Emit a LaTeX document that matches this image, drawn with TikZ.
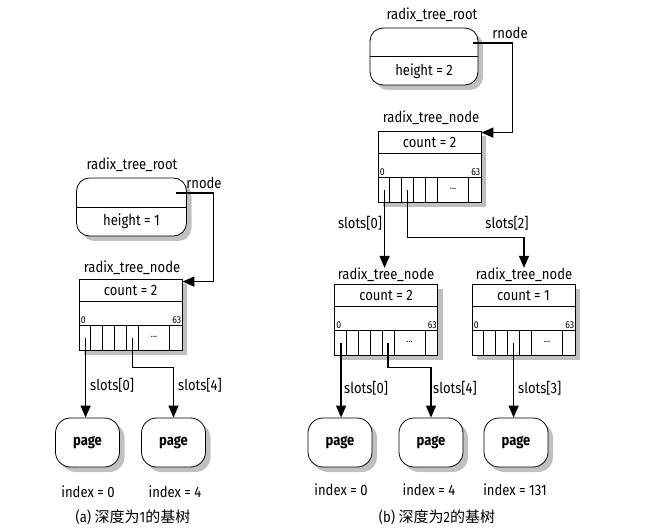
\documentclass[tikz,border=0pt]{standalone}
\usepackage{fontspec}
\setmainfont[FakeStretch=0.87]{Fira Sans}
\newfontfamily\cjk{Noto Sans CJK SC}
\usetikzlibrary{shadows,arrows.meta,calc}
\begin{document}
\begin{tikzpicture}[x=1pt,y=-1pt,
  txt/.style={font=\fontsize{15}{17}\selectfont, inner sep=0pt},
  small/.style={font=\fontsize{10}{11}\selectfont, inner sep=0pt},
  shd/.style={drop shadow={shadow xshift=5pt,shadow yshift=-5pt,fill=black!45,opacity=0.55}},
  rootbox/.style={draw, rounded corners=13pt, minimum width=110pt, minimum height=58pt, fill=white, shd, line width=0.8pt, inner sep=0pt},
  nodebox/.style={draw, minimum width=103pt, minimum height=71pt, fill=white, shd, line width=0.8pt, inner sep=0pt},
  pagebox/.style={draw, rounded corners=15pt, minimum width=64pt, minimum height=49pt, fill=white, shd, line width=0.8pt, inner sep=0pt, font=\fontsize{15}{17}\selectfont\bfseries},
  conn/.style={line width=1.5pt, -{Triangle[length=12pt,width=10pt]}},
  cell/.style={line width=0.7pt}
]
\useasboundingbox (0,0) rectangle (665,532);

% ===================== (a) =====================
\node[txt] (rl1) at (132,165) {radix\_tree\_root};
\node[rootbox] (r1) at (131.5,207) {};
\draw[cell] (r1.west) -- (r1.east);
\node[txt] (h1) at (131.5,221) {height = 1};
\node[txt] (rn1) at (204,183) {rnode};
\coordinate (s1) at (176,193);

\node[txt] (nl1) at (132,268) {radix\_tree\_node};
\node[nodebox] (n1) at (130.5,314.5) {};
\draw[cell] ($(n1.north west)+(0,23)$) -- ($(n1.north east)+(0,23)$);
\draw[cell] ($(n1.north west)+(0,47)$) -- ($(n1.north east)+(0,47)$);
\foreach \x in {12,24,36,48,60,91} \draw[cell] ($(n1.north west)+(\x,47)$) -- ($(n1.south west)+(\x,0)$);
\node[txt] (cnt1) at ($(n1.north)+(0,11.5)$) {count = 2};
\node[small, anchor=south west] (z1) at ($(n1.north west)+(2,45)$) {0};
\node[small, anchor=south east] (e1) at ($(n1.north east)+(-1,45)$) {63};
\node[small] (d1) at ($(n1.south west)+(75.5,-13)$) {...};

\draw[conn] (s1) -| ($(n1.north east)+(31,3)$) -- ($(n1.north east)+(0,3)$);

\node[pagebox] (p1) at (87.5,442.5) {page};
\node[pagebox] (p2) at (173.5,442.5) {page};
\coordinate (a0) at ($(n1.south west)+(7,-12)$);
\coordinate (a4) at ($(n1.south west)+(54,-12)$);
\draw[conn] (a0) -- (a0 |- p1.north);
\draw[conn] (a4) -- ++(0,29) -| (p2.north);
\node[txt, anchor=west] (sl0) at (90,385) {slots[0]};
\node[txt, anchor=west] (sl4) at (178,385) {slots[4]};
\node[txt] (i1) at (88,492) {index = 0};
\node[txt] (i2) at (175,492) {index = 4};
\node[txt] (cap1) at (133,517) {(a) {\cjk\fontsize{15}{17}\selectfont 深度为}1{\cjk\fontsize{15}{17}\selectfont 的基树}};

% ===================== (b) =====================
\node[txt] (rl2) at (432,15) {radix\_tree\_root};
\node[rootbox, minimum width=108pt, minimum height=57pt] (r2) at (424,56.5) {};
\draw[cell] (r2.west) -- (r2.east);
\node[txt] (h2) at (424,71) {height = 2};
\node[txt] (rn2) at (510,33) {rnode};
\coordinate (s2) at (473,43);

\node[txt] (nl2) at (431,118) {radix\_tree\_node};
\node[nodebox] (n2) at (429.5,166.5) {};
\draw[cell] ($(n2.north west)+(0,23)$) -- ($(n2.north east)+(0,23)$);
\draw[cell] ($(n2.north west)+(0,47)$) -- ($(n2.north east)+(0,47)$);
\foreach \x in {12,24,36,48,60,91} \draw[cell] ($(n2.north west)+(\x,47)$) -- ($(n2.south west)+(\x,0)$);
\node[txt] (cnt2) at ($(n2.north)+(0,11.5)$) {count = 2};
\node[small, anchor=south west] (z2) at ($(n2.north west)+(2,45)$) {0};
\node[small, anchor=south east] (e2) at ($(n2.north east)+(-1,45)$) {63};
\node[small] (d2) at ($(n2.south west)+(75.5,-13)$) {...};

\draw[conn] (s2) -| ($(n2.north east)+(31,2)$) -- ($(n2.north east)+(0,2)$);

\node[txt] (nl3) at (386,275) {radix\_tree\_node};
\node[txt] (nl4) at (524,275) {radix\_tree\_node};

\coordinate (b0) at ($(n2.south west)+(7,-12)$);
\coordinate (b2) at ($(n2.south west)+(30,-12)$);
\draw[conn] (b0) -- (b0 |- nl3.north);
\draw[conn] (b2) -- ++(0,47) -| (nl4.north);
\node[txt] (sl20) at (360,223) {slots[0]};
\node[txt] (sl22) at (507,223) {slots[2]};

\node[nodebox] (n3) at (386,319.5) {};
\draw[cell] ($(n3.north west)+(0,23)$) -- ($(n3.north east)+(0,23)$);
\draw[cell] ($(n3.north west)+(0,47)$) -- ($(n3.north east)+(0,47)$);
\foreach \x in {12,24,36,48,60,91} \draw[cell] ($(n3.north west)+(\x,47)$) -- ($(n3.south west)+(\x,0)$);
\node[txt] (cnt3) at ($(n3.north)+(0,11.5)$) {count = 2};
\node[small, anchor=south west] (z3) at ($(n3.north west)+(2,45)$) {0};
\node[small, anchor=south east] (e3) at ($(n3.north east)+(-1,45)$) {63};
\node[small] (d3) at ($(n3.south west)+(75.5,-13)$) {...};

\node[nodebox] (n4) at (523.5,319.5) {};
\draw[cell] ($(n4.north west)+(0,23)$) -- ($(n4.north east)+(0,23)$);
\draw[cell] ($(n4.north west)+(0,47)$) -- ($(n4.north east)+(0,47)$);
\foreach \x in {12,24,36,48,60,91} \draw[cell] ($(n4.north west)+(\x,47)$) -- ($(n4.south west)+(\x,0)$);
\node[txt] (cnt4) at ($(n4.north)+(0,11.5)$) {count = 1};
\node[small, anchor=south west] (z4) at ($(n4.north west)+(2,45)$) {0};
\node[small, anchor=south east] (e4) at ($(n4.north east)+(-1,45)$) {63};
\node[small] (d4) at ($(n4.south west)+(75.5,-13)$) {...};

\node[pagebox] (p3) at (340,442.5) {page};
\node[pagebox] (p4) at (431,442.5) {page};
\node[pagebox] (p5) at (516,442.5) {page};

\coordinate (c0) at ($(n3.south west)+(7,-12)$);
\coordinate (c4) at ($(n3.south west)+(54,-12)$);
\coordinate (f3) at ($(n4.south west)+(42,-12)$);
\draw[conn] (c0) -- (c0 |- p3.north);
\draw[conn] (c4) -- ++(0,24) -| (p4.north);
\draw[conn] (f3) -- (f3 |- p5.north);
\node[txt, anchor=west] (sl30) at (344,388) {slots[0]};
\node[txt, anchor=west] (sl34) at (433,388) {slots[4]};
\node[txt, anchor=west] (sl43) at (518,388) {slots[3]};

\node[txt] (i3) at (341,490) {index = 0};
\node[txt] (i4) at (429,490) {index = 4};
\node[txt] (i5) at (515,490) {index = 131};
\node[txt] (cap2) at (437,517) {(b) {\cjk\fontsize{15}{17}\selectfont 深度为}2{\cjk\fontsize{15}{17}\selectfont 的基树}};
\end{tikzpicture}
\end{document}
